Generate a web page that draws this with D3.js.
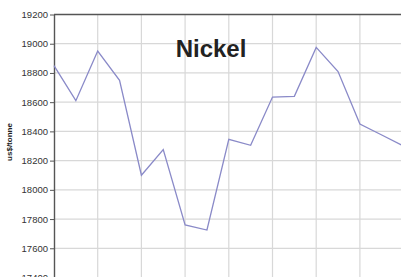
<!DOCTYPE html>
<html>
<head>
<meta charset="utf-8">
<script src="https://cdn.jsdelivr.net/npm/d3@7"></script>
<style>
  body { margin: 0; background: #fff; }
  svg { display: block; font-family: "Liberation Sans", Arial, sans-serif; }
</style>
</head>
<body>
<svg id="chart" width="401" height="277"></svg>
<script>
// monthly nickel price, US$/tonne (x labels are off-screen in the reference)
var months = d3.range(17)
var prices = [18850, 18610, 18950, 18750, 18100, 18275, 17760, 17725, 18345,
              18305, 18635, 18640, 18975, 18810, 18450, 18375, 18300]
var yTicks = [17400, 17600, 17800, 18000, 18200, 18400, 18600, 18800, 19000, 19200]

var svg = d3.select('#chart')

var x = d3.scaleLinear()
    .domain([0, 16])
    .range([54, 403.6])

var y = d3.scaleLinear()
    .domain([17400, 19200])
    .range([277.5, 14.5])

// vertical grid every second point
svg.append('g')
    .selectAll('line')
    .data(months.filter(function(d) { return d % 2 == 0 && d > 0 }))
    .enter().append('line')
      .attr('x1', function(d) { return x(d) })
      .attr('x2', function(d) { return x(d) })
      .attr('y1', y(19200))
      .attr('y2', 277)
      .attr('stroke', '#d8d8d8')
      .attr('stroke-width', 1.2)

// horizontal grid
svg.append('g')
    .selectAll('line')
    .data(yTicks.slice(0, -1))
    .enter().append('line')
      .attr('x1', x(0))
      .attr('x2', 401)
      .attr('y1', function(d) { return y(d) })
      .attr('y2', function(d) { return y(d) })
      .attr('stroke', '#d8d8d8')
      .attr('stroke-width', 1.2)

// top border
svg.append('line')
    .attr('x1', x(0))
    .attr('x2', 401)
    .attr('y1', y(19200))
    .attr('y2', y(19200))
    .attr('stroke', '#555')
    .attr('stroke-width', 1.4)

var yAxis = svg.append('g')
    .attr('transform', 'translate(' + x(0) + ',0)')
    .call(d3.axisLeft(y).tickValues(yTicks).tickFormat(d3.format('d'))
        .tickSize(4).tickPadding(2).tickSizeOuter(0))

yAxis.select('.domain')
    .attr('stroke', '#555')
    .attr('stroke-width', 1.4)
yAxis.selectAll('.tick line').attr('stroke', '#555')
yAxis.selectAll('.tick text')
    .attr('fill', '#333')
    .style('font-size', '9.5px')
    .style('font-family', '"Liberation Sans", Arial, sans-serif')

svg.append('text')
    .attr('transform', 'translate(12,142) rotate(-90)')
    .attr('text-anchor', 'middle')
    .attr('fill', '#222')
    .style('font-size', '8px')
    .style('font-weight', 'bold')
    .text('us$/tonne')

var line = d3.line()
    .x(function(d, i) { return x(months[i]) })
    .y(function(d) { return y(d) })

svg.append('path')
    .datum(prices)
    .attr('d', line)
    .attr('fill', 'none')
    .attr('stroke', '#8a8ac8')
    .attr('stroke-width', 1.3)

svg.append('text')
    .attr('x', 211)
    .attr('y', 57)
    .attr('text-anchor', 'middle')
    .attr('fill', '#222')
    .style('font-size', '24px')
    .style('font-weight', 'bold')
    .text('Nickel')
</script>
</body>
</html>
